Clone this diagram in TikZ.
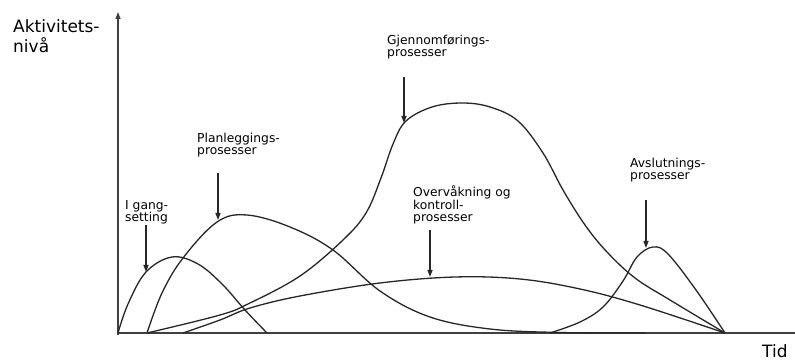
\documentclass[tikz,border=0pt]{standalone}
\usepackage{fontspec}
\setmainfont{DejaVu Sans}
\usetikzlibrary{arrows.meta}
\begin{document}
\begin{tikzpicture}[x=1pt,y=-1pt,
  curve/.style={line width=1.3pt, color=black!85},
  axis/.style={line width=1.4pt, color=black!75},
  ptr/.style={line width=1.3pt, color=black!85, -{Triangle[length=7pt,width=5pt]}},
  lbl/.style={anchor=base west, inner sep=0pt, align=left, font=\fontsize{12.3}{12.5}\selectfont},
  biglbl/.style={anchor=base west, inner sep=0pt, align=left, font=\fontsize{17}{20}\selectfont},
  ]
\useasboundingbox (0,0) rectangle (795,363);
% axes
\coordinate (o) at (118,333);
\coordinate (ytop) at (118,12);
\coordinate (xend) at (795,333);
\draw[axis, -{Triangle[length=7pt,width=5pt]}] (118,335) -- (ytop);
\draw[axis] (o) -- (xend);
\node[biglbl] (ylab) at (13,53) {Aktivitets-\\nivå};
\node[biglbl] (xlab) at (762,357) {Tid};

% curves
\draw[curve] plot[smooth, tension=0.6] coordinates {(118,333) (128,304) (146,272) (172,257) (198,264) (222,284) (245,310) (267,333)};
\draw[curve] plot[smooth, tension=0.6] coordinates {(147,333) (162,293) (183,258) (217,222) (247,215) (290,227) (333,250) (380,291) (430,317) (490,329) (560,332.5) (645,333)};
\draw[curve] plot[smooth, tension=0.6] coordinates {(147,333) (220,315) (250,303) (300,276) (343,240) (366,213) (381,178) (393,144) (406,121) (432,107) (462,103) (490,107) (518,121) (543,153) (563,190) (585,225) (607,252) (635,278) (670,300) (725,333)};
\draw[curve] plot[smooth, tension=0.6] coordinates {(183,333) (220,320) (250,308) (300,296) (380,283) (455,277) (520,279) (580,289) (640,305) (725,333)};
\draw[curve] plot[smooth, tension=0.6] coordinates {(550,333) (580,322) (603,307) (623,281) (637,257) (653,247) (668,254) (696,290) (725,333)};

% labels
\node[lbl] (l1) at (125,222) {I gang-\\setting};
\node[lbl] (l2) at (197,155) {Planleggings-\\prosesser};
\node[lbl] (l3) at (387,57) {Gjennomførings-\\prosesser};
\node[lbl] (l4) at (413,222) {Overvåkning og\\kontroll-\\prosesser};
\node[lbl] (l5) at (630,180) {Avslutnings-\\prosesser};

% pointers
\coordinate (a1s) at (146,225); \coordinate (a1e) at (146,272);
\coordinate (a2s) at (218,173); \coordinate (a2e) at (218,220);
\coordinate (a3s) at (404,77);  \coordinate (a3e) at (404,123);
\coordinate (a4s) at (430,230); \coordinate (a4e) at (430,277);
\coordinate (a5s) at (646,200); \coordinate (a5e) at (646,248);
\draw[ptr] (a1s) -- (a1e);
\draw[ptr] (a2s) -- (a2e);
\draw[ptr] (a3s) -- (a3e);
\draw[ptr] (a4s) -- (a4e);
\draw[ptr] (a5s) -- (a5e);
\end{tikzpicture}
\end{document}
